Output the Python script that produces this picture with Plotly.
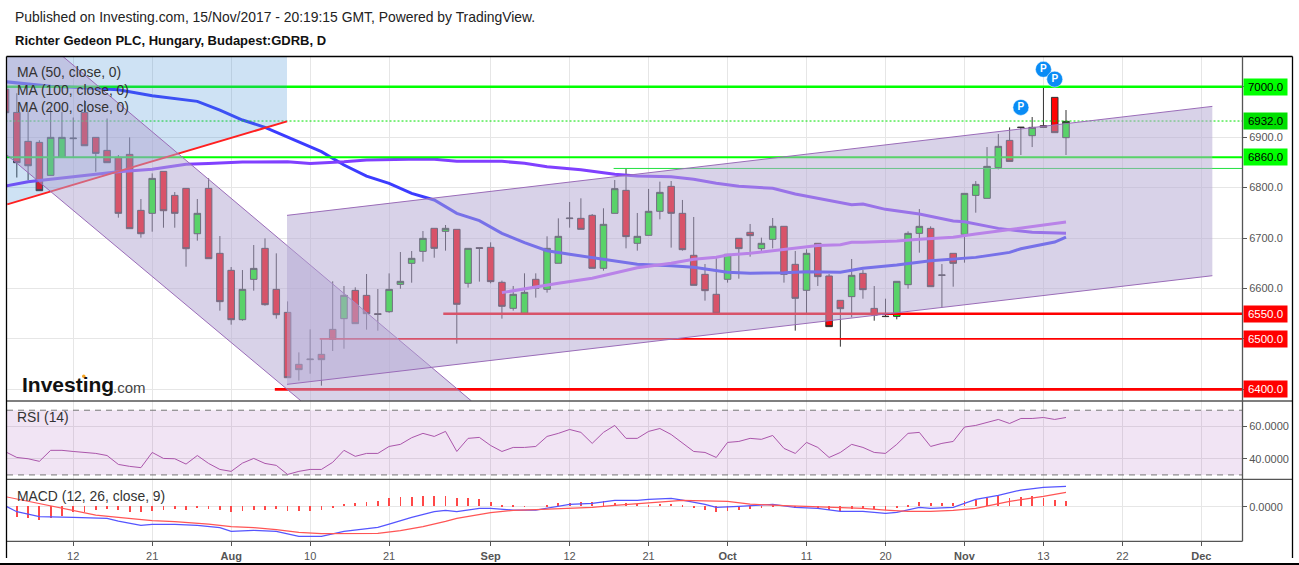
import plotly.graph_objects as go

W, H = 1299, 565

bars = list(range(-6, 89))
opens = [6995, 6949, 6891.7, 6889.7, 6824.3, 6860, 6897, 6949, 6899.6, 6873.8, 6860, 6865.9, 6754.9, 6749, 6832.2, 6784.6, 6798.5, 6708.6, 6798.5, 6669.7, 6636, 6538.2, 6618.1, 6679.6, 6598.3, 6552.7, 6449.7, 6459, 6469.5, 6519, 6540.2, 6596.3, 6586.4, 6550.1, 6554, 6608.2, 6649.9, 6673.6,
         6719.3, 6713.3, 6717.3, 6610.3, 6681, 6681.6, 6612.3, 6560.7, 6550.8, 6618.2, 6598.4, 6650, 6738.5, 6739.1, 6745.1, 6640, 6749, 6794.6, 6689.6, 6705.4, 6753, 6802.5, 6749, 6665.8, 6628.1, 6588.5, 6618.2, 6699.5, 6711.4, 6679, 6697.5, 6723.3, 6647.9, 6596.4, 6689.6, 6624.8, 6576.6, 6583.9,
         6630, 6560.6, 6544.3, 6544.8, 6607.6, 6709.3, 6719.2, 6627, 6669.7, 6707.3, 6784.6, 6778.7, 6839.5, 6893.6, 6919, 6902.9, 6922.7, 6978.9, 6899]
closes = [6948.5, 6849.4, 6843.4, 6793.9, 6899.6, 6899.6, 6898, 6883, 6867.9, 6849.4, 6749, 6718.6, 6708.6, 6818.3, 6754.2, 6749, 6678.9, 6749, 6659.1, 6573.9, 6538.2, 6598.3, 6639.9, 6567.9, 6548.1, 6423.2, 6439.1, 6460, 6458.9, 6499.2, 6586.4, 6530.3, 6550.1, 6548.6, 6598.3, 6614.2, 6659.8, 6699.4,
          6679.6, 6719.3, 6568.7, 6679.6, 6679.5, 6613.6, 6564.7, 6588.5, 6592.4, 6600.4, 6679.6, 6703.4, 6739.5, 6717.3, 6640, 6727.2, 6797.9, 6702.8, 6703.4, 6753, 6790.6, 6749, 6677, 6606.3, 6595.7, 6550.8, 6667.8, 6679, 6704.8, 6689.6, 6723.3, 6628.1, 6580.5, 6669.7, 6623.5, 6524.4, 6560, 6626.1,
          6597.7, 6547.4, 6544.8, 6614.2, 6709.3, 6723.2, 6603.6, 6626.2, 6649.9, 6788.6, 6806.4, 6842.1, 6881.8, 6852, 6919.6, 6919.4, 6919.4, 6908.9, 6931.3]
highs = [7007, 6987, 6950, 6894, 6957, 6950, 6939, 6973.6, 6899.6, 6937, 6864.6, 6899.6, 6777.4, 6828.2, 6832.2, 6791.2, 6798.5, 6777.4, 6818.3, 6704, 6642.6, 6636.6, 6686.2, 6699.4, 6669.7, 6574.5, 6473.4, 6519, 6499.2, 6614.2, 6604.9, 6602.3, 6628.7, 6599, 6630, 6672.3, 6674.3, 6713.9,
         6719.3, 6725.9, 6717.3, 6679.6, 6681, 6691.5, 6615.6, 6605, 6630.1, 6630.1, 6703.4, 6739.1, 6771.5, 6778.8, 6747.7, 6759, 6815.1, 6838.2, 6749.7, 6797.3, 6811.8, 6813.1, 6775.5, 6741.8, 6648.6, 6664.5, 6667.8, 6699.5, 6727.9, 6700.8, 6739.8, 6723.3, 6674.4, 6677.7, 6689.6, 6628.8, 6576.6, 6658.5,
         6636.6, 6604.9, 6579.8, 6614.2, 6713.3, 6757.5, 6723.2, 6648.5, 6669.7, 6788.6, 6813, 6880.4, 6906.2, 6919.4, 6919.6, 6939.9, 6998, 6978.9, 6953.8]
lows = [6948, 6820, 6815, 6794, 6824, 6860, 6861, 6883, 6831.5, 6849.4, 6740.4, 6718.6, 6700.7, 6712.6, 6720.5, 6720.5, 6643.2, 6694.8, 6659.1, 6556, 6528.3, 6536.2, 6595.7, 6565.9, 6540.2, 6423.2, 6417.3, 6431.2, 6407.4, 6476.1, 6480.7, 6530.3, 6518.4, 6516.4, 6552, 6599.6, 6611.5, 6653.2,
        6661, 6675, 6490.7, 6601.7, 6613.6, 6610.3, 6540.2, 6556.1, 6550.8, 6581.9, 6591.8, 6650, 6720.6, 6717.3, 6640, 6635.4, 6749, 6679.6, 6675, 6705.4, 6737.1, 6681, 6675, 6606.3, 6575.9, 6550.8, 6611.6, 6619.5, 6663.1, 6671.1, 6679.6, 6611.6, 6516.5, 6550.8, 6605, 6524.4, 6484.7, 6542.9,
        6579.8, 6536.2, 6544.3, 6538.9, 6599.6, 6671, 6603.6, 6562.6, 6603.6, 6651.2, 6750.3, 6778.7, 6836.2, 6852, 6864.6, 6880.4, 6919.4, 6908.9, 6864.6]

ma50_x = [-6, -4, -2, 0, 4, 7, 11, 13, 15, 17, 21, 22, 24, 26, 28, 30, 32, 34, 36, 38, 40, 42, 44, 47, 50, 53, 55, 58, 60, 63, 65, 68, 70, 73, 76, 80, 83, 84, 87, 88]
ma50_y = [7009.9, 7004.6, 7000.7, 6998.7, 6994, 6982.2, 6971, 6953.8, 6934, 6919.4, 6879.8, 6871.2, 6844.8, 6822.9, 6808.4, 6788.6, 6775.5, 6749, 6734.5, 6709.4, 6690.9, 6675, 6667.8, 6658.5, 6648, 6645.3, 6642, 6632.1, 6630.1, 6631.4, 6633.4, 6632.1, 6640, 6646.5, 6655.1, 6661.7, 6671.6, 6678.9, 6692.1, 6702]
ma100_x = [-6, -4, 0, 4, 7, 10, 12, 15, 19, 21, 24, 26, 31, 32, 34, 38, 40, 42, 45, 48, 50, 53, 55, 57, 59, 62, 64, 67, 69, 70, 72, 75, 78, 79, 82, 85, 88]
ma100_y = [6803.1, 6811.7, 6821.6, 6831.5, 6836.2, 6846.1, 6848, 6850.7, 6851.4, 6848, 6851.4, 6854.7, 6856.6, 6856, 6852.1, 6852.1, 6848.1, 6841.5, 6835.6, 6826.3, 6823, 6821.7, 6816.4, 6808.5, 6802.5, 6798.6, 6787.3, 6774.1, 6766.2, 6767.5, 6756.9, 6747.6, 6733.8, 6732.4, 6719.2, 6711.3, 6709.3]
ma200_x = [38, 41, 43, 46, 48, 50, 53, 55, 57, 58, 60, 62, 64, 66, 68, 69, 70, 73, 75, 78, 80, 82, 84, 86, 88]
ma200_y = [6591.8, 6603.7, 6610.3, 6620.2, 6630.1, 6641.3, 6650, 6657.8, 6661.8, 6666.4, 6669.7, 6675, 6679.6, 6685, 6686.9, 6691.5, 6691.5, 6694.1, 6697.4, 6701.4, 6708, 6714, 6720.5, 6727.2, 6731.8]

rsi = [44.3, 40.8, 40, 38.4, 45.2, 45.2, 44.5, 43.9, 43.3, 42, 36.5, 35.3, 34.5, 43.9, 40.2, 40, 36.7, 42, 37.1, 33.4, 32.2, 37.3, 40.2, 37.1, 35.9, 30.3, 32.2, 33.4, 33.4, 37.8, 45.2, 41.5, 43.3, 43.3, 47.6, 48.9, 53, 55.7, 53.8, 56.9, 44.5, 52.6, 53.2, 48.2, 44.5, 47, 47, 47.6, 53.8, 55.7, 58.1, 56.3, 49.5, 56.3, 60.6, 52.6, 52.6, 56.9,
       58.7, 55, 49.9, 44.5, 43.9, 40.8, 50.1, 50.7, 52.6, 52, 54.4, 46.4, 43.3, 50.1, 47, 40.8, 43.9, 48.9, 47, 43.9, 43.3, 48.9, 55.7, 56.3, 47.6, 49.5, 50.7, 59.6, 60.6, 62.4, 64.3, 61.8, 64.9, 64.9, 65.5, 64.3, 65.5]

macd_x = [-6, -5, -3, -2, 0, 3, 4, 6, 7, 9, 11, 13, 14, 16, 18, 20, 22, 24, 27, 28, 30, 32, 33, 34, 36, 37, 39, 41, 42, 44, 46, 48, 50, 51, 53, 54, 56, 57, 59, 62, 64, 66, 68, 70, 72, 73, 75, 76, 78, 80, 82, 84, 86, 88]
macd_y = [1.3, -10, -20, -20, -21.3, -23.3, -28.7, -37.4, -35.4, -35.4, -37.4, -42, -49.4, -47.4, -49.4, -59.4, -59.4, -49.4, -41.4, -34.7, -21.3, -10, -7.3, -10, -3.3, -3.3, -6.7, -6.7, -3.3, 4.7, 6.7, 12.7, 12.7, 14.7, 16.7, 13.3, 4.7, -1.3, 0.7, 4.7, -1.3, -3.3, -9.3, -9.3, -13.3, -11.3, -1.3, -3.3, -1.3, 14.7, 22.7, 33.3, 38.7, 40.7]
signal_x = [-6, -3, 0, 2, 4, 7, 9, 12, 14, 16, 18, 20, 22, 24, 27, 29, 31, 33, 34, 37, 39, 41, 44, 46, 48, 51, 54, 58, 60, 63, 67, 70, 72, 74, 76, 78, 80, 83, 86, 88]
signal_y = [20, 6.7, -7.3, -16.7, -21.3, -28, -30, -34.7, -40, -42, -46, -51.4, -54, -54, -53.4, -48, -40, -29.3, -23.3, -12, -7.3, -6, -3.3, -1.3, 2.7, 8, 12.7, 10.7, 5.3, 2, -1.3, -3.3, -6.7, -9.3, -9.3, -7.3, -3.3, 10.7, 20.7, 28.7]
hist = [-21.3, -23.3, -26.7, -22.7, -18.7, -12, -10.7, -6.7, -5.3, -8, -10.7, -10.7, -8.7, -6.7, -4.7, -7.3, -1.3, -4.7, -7.3, -10.7, -8.7, -7.3, -7.3, -4.7, -8.7, -8.7, -8.7, -7.3, -1.3, 4, 6.7, 9.3, 11.3, 16, 18, 18.7, 21.3, 21.3, 21.3, 16, 16, 14, 9.3, 2.7, 1.3, 0.3, 0, 1.3, 6, 7.3, 9.3, 8, 10, 6.7, 6.7, 5.3, 3.3,
        5.3, 5.3, 1.3, -3.3, -8, -12, -10, -8, -4.7, -1.3, 2.7, 0, -1.3, -0.7, -3.3, -6.7, -8.7, -5.3, -4, -6, -7.3, -1.3, 3.3, 8, 6, 6, 6, 11.3, 13.3, 16.7, 20, 16.7, 19.3, 20, 17.3, 13.3, 11.3]

tick_pos = [0, 7, 14, 21, 28, 37, 44, 51, 58, 65, 72, 79, 86, 93, 100]
tick_text = ["12", "21", "<b>Aug</b>", "10", "21", "<b>Sep</b>", "12", "21", "<b>Oct</b>", "11", "20", "<b>Nov</b>", "13", "22", "<b>Dec</b>"]

# drawn levels: (value, first bar, colour, width, dash)
levels = [
    (7000, -6, "#00ff00", 2.6, "solid"),
    (6932, -6, "#00e000", 1, "2px,2px"),
    (6860, -6, "#00ff00", 2, "solid"),
    (6838, 47.9, "#20e040", 1, "solid"),
    (6550, 32.8, "#ff0000", 2.6, "solid"),
    (6500, 21.85, "#ff0000", 1.8, "solid"),
    (6400, 17.87, "#ff0000", 2.6, "solid"),
]
# right hand price boxes: (value, fill, text colour)
price_boxes = [
    (7000, "#00ff00", "#000000"),
    (6932, "#00e000", "#000000"),
    (6860, "#00ff00", "#000000"),
    (6550, "#ff0000", "#ffffff"),
    (6500, "#ff0000", "#ffffff"),
    (6400, "#ff0000", "#ffffff"),
]

pivot_x = [84, 86, 87]
pivot_y = [6959, 7034.5, 7015]

fan_x = [-5.85, 18.95, 18.95, -5.85]
fan_y = [6766.8, 6931.3, 7059.5, 7059.5]
down_x = [-5.87, -5.87, -0.89, 35.3, 20.2]
down_y = [6864.6, 7059.5, 7059.5, 6377, 6377]
up_x = [18.95, 100.97, 100.97, 18.95]
up_y = [6745, 6961, 6625.4, 6410]

X_RANGE = [-5.87, 103.6]
CHANNEL_FILL = "rgba(178,166,210,0.5)"
CHANNEL_LINE = "#9a6cb8"
GRID = "#e6e6e6"
FONT = "Liberation Sans"


def py(p):
    # pixel row to paper fraction
    return 1 - p / H


def line(x, y, color, width=1, dash="solid", axis="y", xaxis="x"):
    return go.Scatter(x=x, y=y, mode="lines", xaxis=xaxis, yaxis=axis, hoverinfo="skip",
                      line=dict(color=color, width=width, dash=dash))


fig = go.Figure()

fig.add_trace(go.Candlestick(
    x=bars, open=opens, high=highs, low=lows, close=closes,
    increasing=dict(fillcolor="#00ff00", line=dict(color="#333333", width=1)),
    decreasing=dict(fillcolor="#ff0000", line=dict(color="#333333", width=1)),
    whiskerwidth=0,
))

fig.add_trace(line(ma50_x, ma50_y, "#3c3cff", 3))
fig.add_trace(line(ma100_x, ma100_y, "#8040ff", 3))
fig.add_trace(line(ma200_x, ma200_y, "#c060ff", 3))

for value, start, color, width, dash in levels:
    fig.add_trace(line([start, X_RANGE[1]], [value, value], color, width, dash))

fig.add_trace(go.Scatter(x=fan_x, y=fan_y, mode="none", fill="toself",
                         fillcolor="rgba(60,140,210,0.25)", hoverinfo="skip"))
fig.add_trace(line(fan_x[:2], fan_y[:2], "#ff2020", 2))

# channels go over everything else, the candles show through them
fig.add_trace(go.Scatter(x=down_x, y=down_y, mode="none", fill="toself",
                         fillcolor=CHANNEL_FILL, hoverinfo="skip"))
fig.add_trace(line(down_x[2:4], down_y[2:4], CHANNEL_LINE))
fig.add_trace(line([down_x[0], down_x[4]], [down_y[0], down_y[4]], CHANNEL_LINE))
fig.add_trace(go.Scatter(x=up_x, y=up_y, mode="none", fill="toself",
                         fillcolor=CHANNEL_FILL, hoverinfo="skip"))
fig.add_trace(line(up_x[:2], up_y[:2], CHANNEL_LINE))
fig.add_trace(line(up_x[2:][::-1], up_y[2:][::-1], CHANNEL_LINE))

fig.add_trace(go.Scatter(
    x=pivot_x, y=pivot_y, mode="markers+text", text=["<b>P</b>", "<b>P</b>", "<b>P</b>"],
    textposition="middle center",
    marker=dict(size=16, color="#0a8cf5", line=dict(color="#ffffff", width=0.5)),
    textfont=dict(color="#ffffff", size=10, family=FONT), hoverinfo="skip", cliponaxis=False,
))

# RSI panel
fig.add_trace(go.Scatter(x=[X_RANGE[0], X_RANGE[1], X_RANGE[1], X_RANGE[0]], y=[30, 30, 70, 70],
                         mode="none", fill="toself", fillcolor="rgba(150,50,170,0.13)",
                         xaxis="x2", yaxis="y2", hoverinfo="skip"))
fig.add_trace(line(X_RANGE, [70, 70], "#777777", 1, "6px,5px", "y2", "x2"))
fig.add_trace(line(X_RANGE, [30, 30], "#777777", 1, "6px,5px", "y2", "x2"))
fig.add_trace(line(bars, rsi, "#aa55aa", 1, "solid", "y2", "x2"))

# MACD panel
fig.add_trace(go.Bar(x=bars[1:], y=hist, width=0.07, marker=dict(color="#ff4848", line=dict(width=0)),
                     xaxis="x3", yaxis="y3", hoverinfo="skip"))
fig.add_trace(line(macd_x, macd_y, "#5555ff", 1.2, "solid", "y3", "x3"))
fig.add_trace(line(signal_x, signal_y, "#ff5555", 1.2, "solid", "y3", "x3"))

tick_font = dict(family=FONT, size=11, color="#555555")
x_common = dict(range=X_RANGE, domain=[7 / W, 1242 / W], tickmode="array", tickvals=tick_pos,
                ticktext=tick_text, showgrid=True, gridcolor=GRID, gridwidth=1, zeroline=False,
                showline=False, rangeslider=dict(visible=False))
y_common = dict(side="right", showgrid=True, gridcolor=GRID, zeroline=False, showline=False,
                ticks="outside", ticklen=4, tickcolor="#555555", tickfont=tick_font, tickmode="array")

fig.update_layout(
    width=W, height=H, margin=dict(l=0, r=0, t=0, b=0), autosize=False,
    paper_bgcolor="#ffffff", plot_bgcolor="#ffffff", showlegend=False,
    boxgap=0.42, boxgroupgap=0, bargap=0,
    font=dict(family=FONT, size=12, color="#333333"),
    xaxis=dict(anchor="y", showticklabels=False, ticks="", **x_common),
    xaxis2=dict(anchor="y2", showticklabels=False, ticks="", **x_common),
    xaxis3=dict(anchor="y3", showticklabels=True, ticks="outside", ticklen=4, tickcolor="#555555",
                tickfont=tick_font, **x_common),
    yaxis=dict(anchor="x", domain=[py(401), py(56.7)], range=[6377, 7059.5],
               tickvals=[6400, 6500, 6600, 6700, 6800, 6900, 7000],
               ticktext=["", "", "6600.0", "6700.0", "6800.0", "6900.0", ""], **y_common),
    yaxis2=dict(anchor="x2", domain=[py(479.3), py(401)], range=[27.3, 75.7],
                tickvals=[40, 60], ticktext=["40.0000", "60.0000"], **y_common),
    yaxis3=dict(anchor="x3", domain=[py(541.3), py(479.3)], range=[-69.2, 54.8],
                tickvals=[0], ticktext=["0.0000"], **y_common),
)

shapes = []
for p in [56.5, 401, 479.3]:
    color = "#000000" if p == 56.5 else "#555555"
    shapes.append(dict(type="line", xref="paper", yref="paper", x0=6.5 / W, x1=1292.5 / W,
                       y0=py(p), y1=py(p), line=dict(color=color, width=1.3)))
shapes.append(dict(type="line", xref="paper", yref="paper", x0=6.5 / W, x1=1242.5 / W,
                   y0=py(541.3), y1=py(541.3), line=dict(color="#555555", width=1.3)))
shapes.append(dict(type="line", xref="paper", yref="paper", x0=1242.5 / W, x1=1242.5 / W,
                   y0=py(56.5), y1=py(541.3), line=dict(color="#555555", width=1.3)))
for px_x in [6.5, 1292.5]:
    shapes.append(dict(type="line", xref="paper", yref="paper", x0=px_x / W, x1=px_x / W,
                       y0=py(56.5), y1=py(558), line=dict(color="#000000", width=1.3)))
shapes.append(dict(type="rect", xref="paper", yref="paper", x0=0, x1=1, y0=0, y1=py(563),
                   fillcolor="#000000", line=dict(width=0)))
# orange fleck over the i of the logo
shapes.append(dict(type="circle", xref="paper", yref="paper", x0=82 / W, x1=85.5 / W,
                   y0=py(378), y1=py(374.5), fillcolor="#f5a623", line=dict(width=0)))
fig.update_layout(shapes=shapes)


def label(text, x_px, y_px, size=13.9, color="#333333", xanchor="left"):
    # annotations pad their text by 2px, x_px is where the glyphs should start
    return dict(text=text, x=(x_px - 2) / W, y=py(y_px), xref="paper", yref="paper", xanchor=xanchor,
                yanchor="middle", showarrow=False, font=dict(family=FONT, size=size, color=color))


annotations = [
    label("Published on Investing.com, 15/Nov/2017 - 20:19:15 GMT, Powered by TradingView.", 15, 17, 13.9, "#222222"),
    label("<b>Richter Gedeon PLC, Hungary, Budapest:GDRB, D</b>", 15, 40, 13, "#111111"),
    label("MA (50, close, 0)", 17, 72.5),
    label("MA (100, close, 0)", 17, 89.5),
    label("MA (200, close, 0)", 17, 106.5),
    label("RSI (14)", 17, 417),
    label("MACD (12, 26, close, 9)", 17, 496),
    label("<b>Investing</b>", 22, 385, 21, "#111111"),
    label(".com", 113, 387, 15, "#444444"),
]
for value, fill, text_color in price_boxes:
    annotations.append(dict(
        text=f"{value:.1f}", x=1243 / W, xref="paper", y=value, yref="y", xanchor="left", yanchor="middle",
        showarrow=False, width=43, height=16, bgcolor=fill, borderpad=0,
        font=dict(family=FONT, size=11.5, color=text_color),
    ))
fig.update_layout(annotations=annotations)

# the page's default body margin would push the figure 8px in
fig.write_html("out.html", config={"displayModeBar": False},
               post_script="document.body.style.margin='0';document.body.style.overflow='hidden';")
